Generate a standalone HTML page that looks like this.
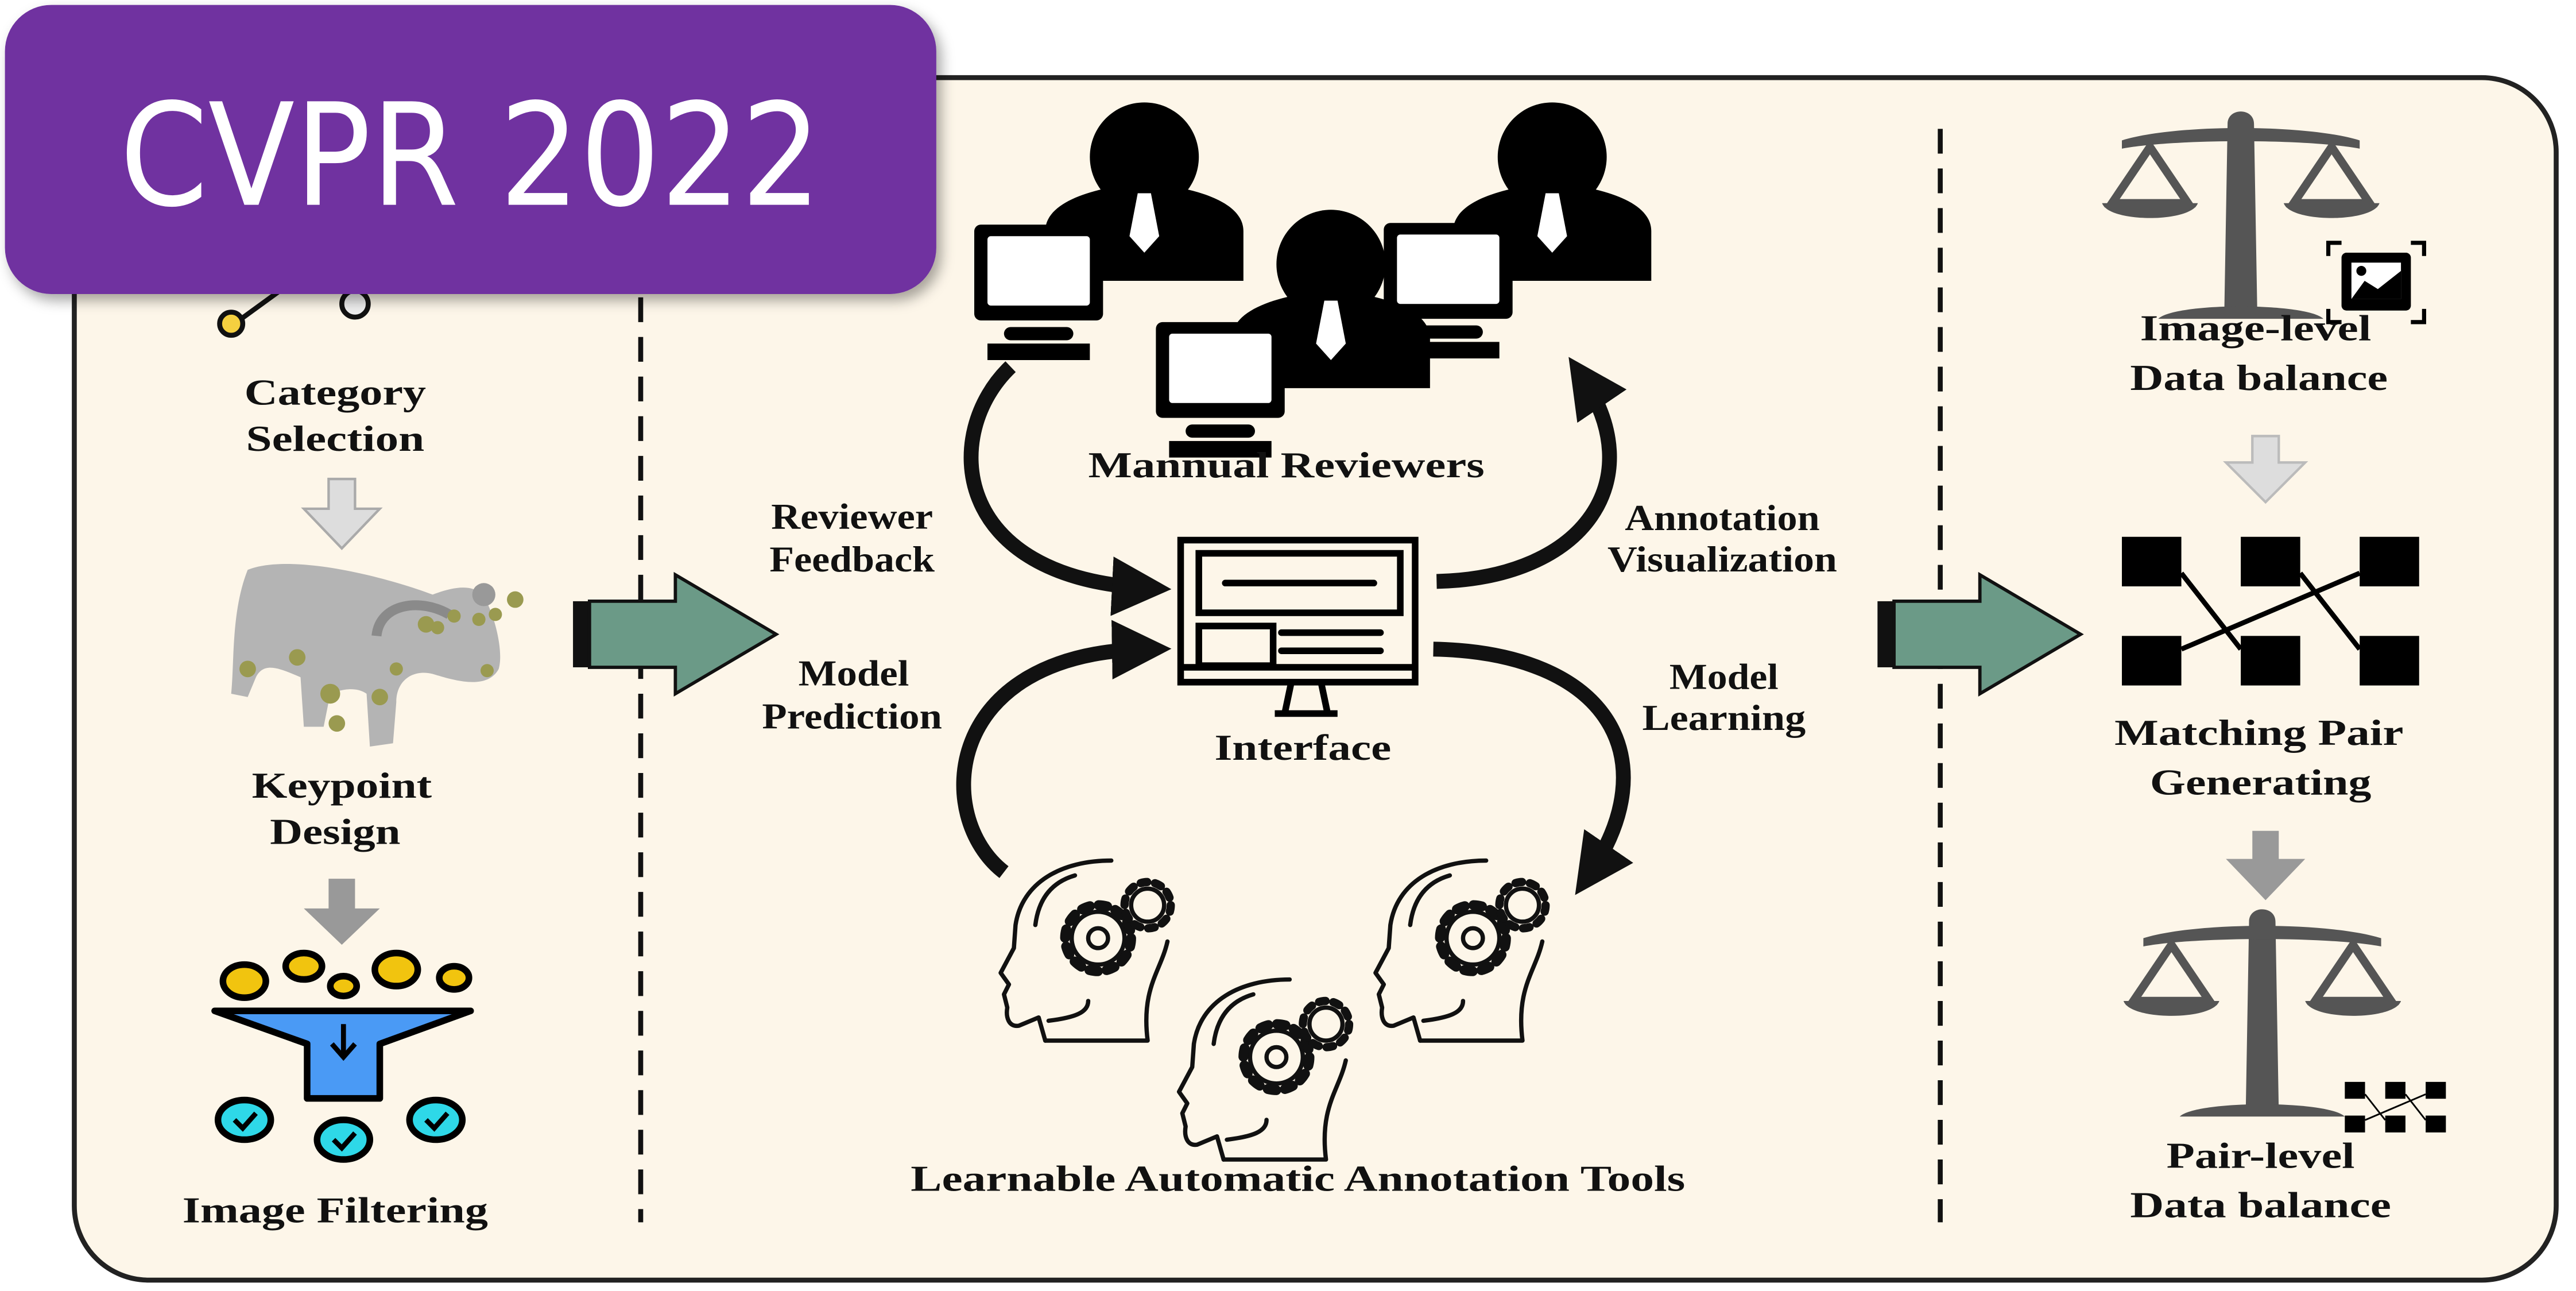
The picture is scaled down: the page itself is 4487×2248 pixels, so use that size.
<!DOCTYPE html>
<html><head><meta charset="utf-8"><style>
html,body{margin:0;padding:0;background:#fff;}
svg{display:block;}
.t{font-family:"Liberation Serif",serif;font-weight:bold;font-size:22px;fill:#111;text-anchor:middle;transform:translate(-4px,-2px);}
</style></head><body>
<svg width="4487" height="2248" viewBox="0 0 1560 781.6" preserveAspectRatio="none" xmlns="http://www.w3.org/2000/svg">
<defs>
<filter id="sh" x="-10%" y="-10%" width="130%" height="130%"><feDropShadow dx="3" dy="4" stdDeviation="4" flood-color="#000" flood-opacity="0.35"/></filter>
<marker id="ah" viewBox="0 0 10 10" refX="6" refY="5" markerWidth="4" markerHeight="4" orient="auto"><path d="M0,0 L10,5 L0,10 Z" fill="#111"/></marker>
<g id="head" fill="none" stroke="#111" stroke-width="2.6" stroke-linecap="round" stroke-linejoin="round">
  <path d="M28 112 L24 98 L12 103 C6 104 4 98 5 92 L3 84 L6 78 L1 71 L9 56 L10 42 C14 16 38 3 68 3"/>
  <path d="M22 42 C24 26 32 16 46 12"/>
  <path d="M102 52 C98 70 86 80 90 112 L28 112"/>
  <path d="M54 88 C54 95 46 98 30 100"/>
  <circle cx="60" cy="50" r="16"/>
  <circle cx="60" cy="50" r="6"/>
  <circle cx="60" cy="50" r="20" stroke-width="6" stroke-dasharray="5.2 5.3"/>
  <circle cx="90" cy="30" r="10"/>
  <circle cx="90" cy="30" r="14" stroke-width="5" stroke-dasharray="4 4.8"/>
</g>
<g id="person" fill="#000">
  <circle cx="0" cy="0" r="33"/>
  <path d="M-60 75 L-60 45 C-60 30 -40 22 -18 18 L0 22 L18 18 C40 22 60 30 60 45 L60 75 Z"/>
  <path d="M-4 22 L4 22 L9 48 L0 58 L-9 48 Z" fill="#fff"/>
</g>
<g id="monitor">
  <rect x="0" y="0" width="78" height="58" rx="4" fill="#000"/>
  <rect x="8" y="7" width="62" height="42" rx="2" fill="#fff"/>
  <rect x="18" y="62" width="42" height="8" rx="4" fill="#000"/>
  <rect x="8" y="72" width="62" height="10" fill="#000"/>
</g>
<g id="scale" fill="#555">
  <path d="M-8 0 C-8 -10 8 -10 8 0 L10 115 L-10 115 Z"/>
  <path d="M-50 118 C-40 108 40 108 50 118 Z"/>
  <path d="M-72 10 C-40 0 40 0 72 10 L72 15 C40 9 -40 9 -72 15 Z"/>
  <path d="M-55 14 L-78 48 L-32 48 Z" fill="none" stroke="#555" stroke-width="5"/>
  <path d="M55 14 L32 48 L78 48 Z" fill="none" stroke="#555" stroke-width="5"/>
  <path d="M-84 48 L-26 48 C-30 60 -80 60 -84 48 Z"/>
  <path d="M26 48 L84 48 C80 60 30 60 26 48 Z"/>
</g>
<g id="pairs">
  <rect x="0" y="0" width="36" height="30" fill="#000"/>
  <rect x="72" y="0" width="36" height="30" fill="#000"/>
  <rect x="144" y="0" width="36" height="30" fill="#000"/>
  <rect x="0" y="60" width="36" height="30" fill="#000"/>
  <rect x="72" y="60" width="36" height="30" fill="#000"/>
  <rect x="144" y="60" width="36" height="30" fill="#000"/>
  <path d="M36 22 L72 68 M108 22 L144 68 M36 68 L144 22" stroke="#000" stroke-width="3" fill="none"/>
</g>
<g id="bigarrow">
  <rect x="0" y="-20" width="10" height="40" fill="#111"/>
  <path d="M10 -20 L62 -20 L62 -36 L123 0 L62 36 L62 20 L10 20 Z" fill="#6b9a87" stroke="#111" stroke-width="2"/>
</g>
</defs>

<rect x="45" y="47" width="1503" height="728" rx="45" fill="#fdf6e9" stroke="#222" stroke-width="3"/>

<line x1="388" y1="180" x2="388" y2="740" stroke="#111" stroke-width="3" stroke-dasharray="15 9"/>
<line x1="1175" y1="78" x2="1175" y2="740" stroke="#111" stroke-width="3" stroke-dasharray="15 9"/>

<path d="M142 196 L175 172" stroke="#111" stroke-width="3"/>
<circle cx="140" cy="196" r="7" fill="#f5d040" stroke="#111" stroke-width="3"/>
<circle cx="215" cy="184" r="8" fill="#eee" stroke="#111" stroke-width="3"/>
<text class="t" x="207" y="247" textLength="110" lengthAdjust="spacingAndGlyphs">Category</text>
<text class="t" x="207" y="275" textLength="108" lengthAdjust="spacingAndGlyphs">Selection</text>
<path d="M199 290 L215 290 L215 308 L230 308 L207 332 L184 308 L199 308 Z" fill="#ddd" stroke="#aaa" stroke-width="1.5"/>
<g>
  <path d="M150 345 C175 335 230 348 262 360 C275 355 290 352 295 365 C300 375 305 395 302 405 C295 418 275 412 262 408 C250 405 240 412 240 425 L238 450 L224 452 L222 420 C215 415 205 418 200 420 L196 440 L184 440 L182 410 C170 405 160 400 155 410 L150 422 L140 420 C142 400 140 370 150 345 Z" fill="#b4b4b4"/>
  <path d="M228 385 C230 365 255 362 272 372" fill="none" stroke="#8a8a8a" stroke-width="6"/>
  <circle cx="293" cy="360" r="7" fill="#999"/>
  <g fill="#9a9a50"><circle cx="258" cy="378" r="5"/><circle cx="265" cy="380" r="4"/><circle cx="275" cy="373" r="4"/><circle cx="180" cy="398" r="5"/><circle cx="200" cy="420" r="6"/><circle cx="230" cy="422" r="5"/><circle cx="204" cy="438" r="5"/><circle cx="150" cy="405" r="5"/><circle cx="290" cy="375" r="4"/><circle cx="300" cy="372" r="4"/><circle cx="312" cy="363" r="5"/><circle cx="295" cy="406" r="4"/><circle cx="240" cy="405" r="4"/></g>
</g>
<text class="t" x="211" y="485" textLength="109" lengthAdjust="spacingAndGlyphs">Keypoint</text>
<text class="t" x="207" y="513" textLength="79" lengthAdjust="spacingAndGlyphs">Design</text>
<path d="M199 532 L215 532 L215 550 L230 550 L207 572 L184 550 L199 550 Z" fill="#999"/>
<g stroke="#000" stroke-width="4">
  <ellipse cx="148" cy="594" rx="13" ry="10" fill="#f1c40f"/>
  <ellipse cx="184" cy="585" rx="11" ry="8" fill="#f1c40f"/>
  <ellipse cx="208" cy="597" rx="8" ry="6" fill="#f1c40f"/>
  <ellipse cx="240" cy="587" rx="13" ry="10" fill="#f1c40f"/>
  <ellipse cx="275" cy="592" rx="9" ry="7" fill="#f1c40f"/>
</g>
<path d="M130 612 L285 612 L230 632 L230 665 L186 665 L186 632 Z" fill="#4a9af5" stroke="#000" stroke-width="4" stroke-linejoin="round"/>
<path d="M208 620 L208 638 M201 632 L208 640 L215 632" stroke="#000" stroke-width="3" fill="none"/>
<g stroke="#000" stroke-width="4" fill="#2ed8e8">
  <ellipse cx="148" cy="678" rx="16" ry="12"/>
  <ellipse cx="208" cy="690" rx="16" ry="12"/>
  <ellipse cx="264" cy="678" rx="16" ry="12"/>
</g>
<g stroke="#000" stroke-width="3" fill="none">
  <path d="M142 678 L147 683 L155 674"/><path d="M202 690 L207 695 L215 686"/><path d="M258 678 L263 683 L271 674"/>
</g>
<text class="t" x="207" y="742" textLength="185" lengthAdjust="spacingAndGlyphs">Image Filtering</text>

<use href="#bigarrow" x="347" y="384"/>
<use href="#bigarrow" x="1137" y="384"/>

<use href="#person" x="693" y="95"/>
<use href="#person" x="940" y="95"/>
<use href="#monitor" x="590" y="136"/>
<use href="#monitor" x="838" y="135"/>
<use href="#person" x="806" y="160"/>
<use href="#monitor" x="700" y="195"/>
<text class="t" x="783" y="291" textLength="240" lengthAdjust="spacingAndGlyphs">Mannual Reviewers</text>

<g fill="none" stroke="#000" stroke-width="4">
  <rect x="715" y="327" width="142" height="86"/>
  <rect x="726" y="335" width="122" height="36"/>
  <rect x="726" y="379" width="45" height="24"/>
  <line x1="716" y1="404" x2="856" y2="404"/>
  <path d="M782 413 L778 432 M800 413 L804 432 M772 432 L810 432"/>
</g>
<path d="M742 353 L832 353 M776 383 L836 383 M776 394 L836 394" stroke="#000" stroke-width="4" stroke-linecap="round"/>
<text class="t" x="793" y="462" textLength="107" lengthAdjust="spacingAndGlyphs">Interface</text>

<g fill="none" stroke="#111" stroke-width="9" marker-end="url(#ah)">
  <path d="M612 222 C570 262 575 350 695 356"/>
  <path d="M870 352 C960 350 1000 290 958 228"/>
  <path d="M608 528 C565 495 570 395 695 393"/>
  <path d="M868 393 C975 395 1010 460 962 530"/>
</g>
<text class="t" x="520" y="322" textLength="98" lengthAdjust="spacingAndGlyphs">Reviewer</text>
<text class="t" x="520" y="348" textLength="100" lengthAdjust="spacingAndGlyphs">Feedback</text>
<text class="t" x="1047" y="323" textLength="118" lengthAdjust="spacingAndGlyphs">Annotation</text>
<text class="t" x="1047" y="348" textLength="139" lengthAdjust="spacingAndGlyphs">Visualization</text>
<text class="t" x="521" y="417" textLength="67" lengthAdjust="spacingAndGlyphs">Model</text>
<text class="t" x="520" y="443" textLength="109" lengthAdjust="spacingAndGlyphs">Prediction</text>
<text class="t" x="1048" y="419" textLength="66" lengthAdjust="spacingAndGlyphs">Model</text>
<text class="t" x="1048" y="444" textLength="99" lengthAdjust="spacingAndGlyphs">Learning</text>

<use href="#head" x="605" y="518"/>
<use href="#head" x="832" y="518"/>
<use href="#head" x="713" y="590"/>
<text class="t" x="790" y="723" textLength="469" lengthAdjust="spacingAndGlyphs">Learnable Automatic Annotation Tools</text>

<use href="#scale" x="1357" y="75"/>
<g>
  <path d="M1410 155 L1410 147 L1418 147 M1460 147 L1468 147 L1468 155 M1410 187 L1410 195 L1418 195 M1460 195 L1468 195 L1468 187" stroke="#000" stroke-width="2.5" fill="none"/>
  <rect x="1418" y="153" width="42" height="35" rx="3" fill="#000"/>
  <rect x="1424" y="159" width="30" height="22" fill="#fff"/>
  <path d="M1424 181 L1432 170 L1440 175 L1454 164 L1454 181 Z" fill="#000"/>
  <circle cx="1430" cy="164" r="3" fill="#000"/>
</g>
<text class="t" x="1370" y="208" textLength="140" lengthAdjust="spacingAndGlyphs">Image-level</text>
<text class="t" x="1372" y="238" textLength="156" lengthAdjust="spacingAndGlyphs">Data balance</text>
<path d="M1364 264 L1380 264 L1380 280 L1396 280 L1372 304 L1348 280 L1364 280 Z" fill="#ddd" stroke="#bbb" stroke-width="1.5"/>
<use href="#pairs" x="1285" y="325"/>
<text class="t" x="1372" y="453" textLength="175" lengthAdjust="spacingAndGlyphs">Matching Pair</text>
<text class="t" x="1373" y="483" textLength="134" lengthAdjust="spacingAndGlyphs">Generating</text>
<path d="M1364 503 L1380 503 L1380 520 L1396 520 L1372 545 L1348 520 L1364 520 Z" fill="#999"/>
<use href="#scale" x="1370" y="558"/>
<use href="#pairs" transform="translate(1420 655) scale(0.34)"/>
<text class="t" x="1373" y="709" textLength="114" lengthAdjust="spacingAndGlyphs">Pair-level</text>
<text class="t" x="1373" y="739" textLength="158" lengthAdjust="spacingAndGlyphs">Data balance</text>

<rect x="3" y="3" width="564" height="175" rx="28" fill="#7030a0" filter="url(#sh)"/>
<text x="285" y="124" font-family="'DejaVu Sans','Liberation Sans',sans-serif" font-size="86" fill="#fff" text-anchor="middle" textLength="425" lengthAdjust="spacingAndGlyphs">CVPR 2022</text>
</svg>
</body></html>
